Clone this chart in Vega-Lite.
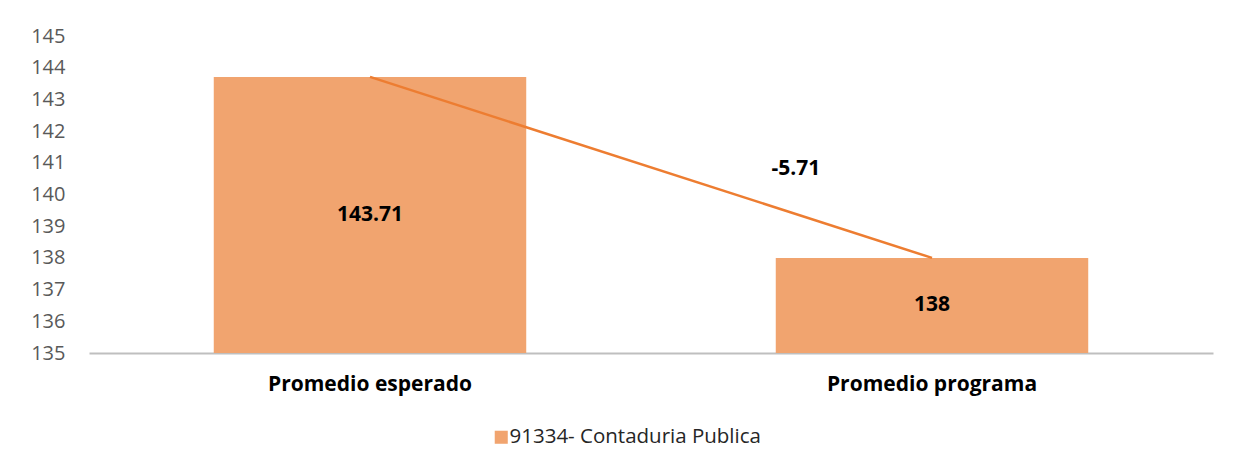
{
  "$schema": "https://vega.github.io/schema/vega-lite/v6.json",
  "autosize": {"type": "none"},
  "width": 1124,
  "height": 317,
  "padding": {"left": 89, "top": 36, "right": 25, "bottom": 119},
  "background": "white",
  "config": {"view": {"stroke": null}, "font": "Open Sans"},
  "data": {"values": [
    {"categoria": "Promedio esperado", "valor": 143.71, "serie": "91334- Contaduria Publica", "diferencia": null},
    {"categoria": "Promedio programa", "valor": 138, "serie": "91334- Contaduria Publica", "diferencia": "-5.71"}
  ]},
  "encoding": {
    "x": {"field": "categoria", "type": "nominal", "sort": null,
      "scale": {"paddingInner": 0.444, "paddingOuter": 0.222},
      "axis": {"title": null, "labelAngle": 0, "labelFontSize": 21, "labelFontWeight": "bold", "labelColor": "#000000", "labelPadding": 20, "labelLimit": 0, "ticks": false, "domainColor": "#BFBFBF", "domainWidth": 2}},
    "y": {"field": "valor", "type": "quantitative",
      "scale": {"domain": [135, 145], "zero": false, "nice": false},
      "axis": {"title": null, "values": [135,136,137,138,139,140,141,142,143,144,145], "labelOverlap": false, "grid": false, "domain": false, "ticks": false, "labelPadding": 24, "labelFontSize": 20, "labelColor": "#595959"}}
  },
  "layer": [
    {
      "mark": {"type": "bar", "clip": true},
      "encoding": {
        "color": {"field": "serie", "type": "nominal",
          "scale": {"range": ["#F1A46F"]},
          "legend": {"title": null, "orient": "none", "legendX": 402, "legendY": 391, "symbolType": "square", "symbolSize": 170, "labelOffset": -2, "labelFontSize": 20.5, "labelLimit": 0, "labelColor": "#262626", "symbolStrokeWidth": 0}}
      }
    },
    {
      "mark": {"type": "line", "color": "#ED7D31", "strokeWidth": 2.5}
    },
    {
      "transform": [{"calculate": "(datum.valor + 135) / 2", "as": "medio"}],
      "mark": {"type": "text", "fontSize": 21, "fontWeight": "bold", "color": "#000000"},
      "encoding": {
        "y": {"field": "medio", "type": "quantitative"},
        "text": {"field": "valor", "type": "quantitative"}
      }
    },
    {
      "transform": [{"filter": "datum.diferencia != null"}],
      "mark": {"type": "text", "fontSize": 21, "fontWeight": "bold", "color": "#000000", "dx": -136, "dy": -89},
      "encoding": {
        "text": {"field": "diferencia", "type": "nominal"}
      }
    }
  ]
}
